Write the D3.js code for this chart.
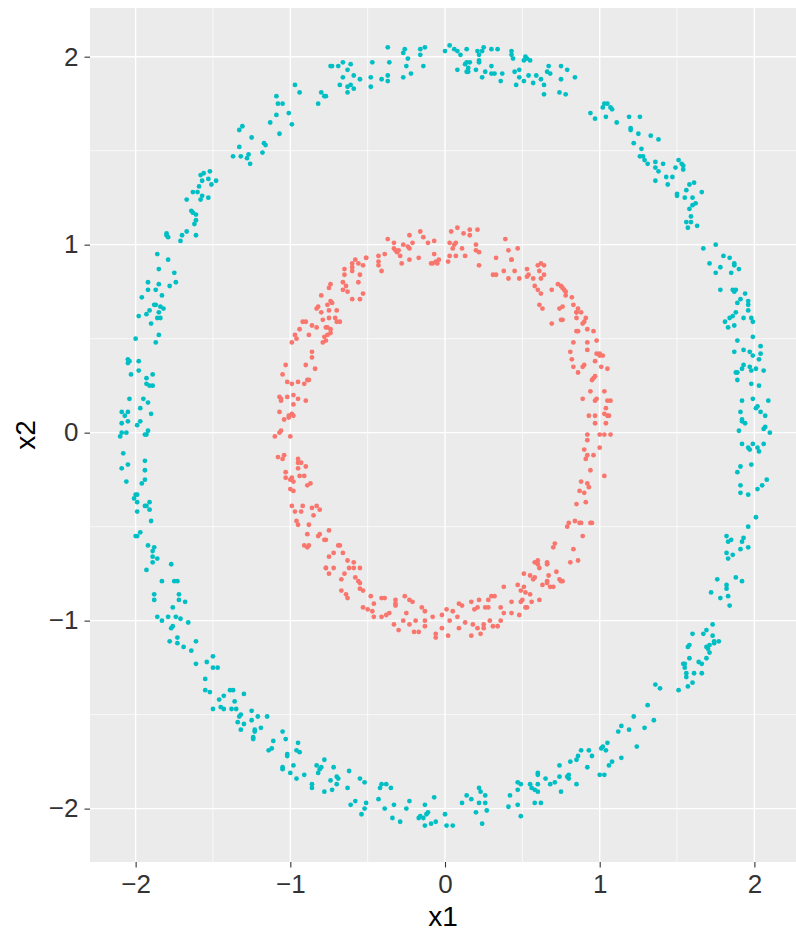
<!DOCTYPE html>
<html>
<head>
<meta charset="utf-8">
<script src="https://cdn.jsdelivr.net/npm/d3@7"></script>
<style>
  body { margin: 0; background: #fff; }
  text { font-family: "Liberation Sans", Arial, Helvetica, sans-serif; }
</style>
</head>
<body>
<script>
// size of the page
var width = 796, height = 933;
var panel = {left: 90, right: 796, top: 8, bottom: 862};

// tick values
var xTicks = [-2, -1, 0, 1, 2];
var yTicks = [-2, -1, 0, 1, 2];
var xMinor = [-1.5, -0.5, 0.5, 1.5];
var yMinor = [-1.5, -0.5, 0.5, 1.5];

// classes and colours
var classes = ["inner", "outer"];
var colours = ["#F8766D", "#00BFC4"];

// inner ring points [x1, x2]
var inner = [
[-0.80,0.73],[-0.83,0.66],[-0.82,0.67],[-0.80,0.64],[-0.79,0.60],[-0.92,0.59],[-0.90,0.59],[-0.86,0.57],[-0.83,0.56],[-0.77,0.56],
[-0.94,0.55],[-0.97,0.52],[-0.88,0.52],[-0.96,0.50],[-0.99,0.48],[-0.78,0.51],[-0.79,0.48],[-0.86,0.43],[-0.86,0.40],[-1.03,0.36],
[-0.90,0.36],[-0.84,0.34],[-1.05,0.31],[-1.02,0.27],[-0.99,0.26],[-0.95,0.27],[-0.91,0.26],[-0.89,0.28],[-0.88,0.28],[-1.07,0.19],
[-1.06,0.17],[-1.06,0.18],[-1.02,0.19],[-0.98,0.20],[-0.95,0.18],[-0.90,0.17],[-0.98,0.15],[-1.07,0.11],[-1.01,0.09],[-0.99,0.10],
[-0.98,0.09],[-1.04,0.07],[-1.01,0.08],[-1.06,0.01],[-1.07,0.00],[-1.10,-0.02],[-1.00,-0.02],
[-0.37,1.03],[-0.33,1.01],[-0.33,0.98],[-0.32,0.97],[-0.30,0.97],[-0.31,0.96],[-0.27,1.00],[-0.23,1.05],[-0.24,0.99],[-0.23,0.98],
[-0.21,1.01],[-0.29,0.94],[-0.28,0.90],[-0.23,0.92],[-0.17,0.93],[-0.16,1.07],[-0.14,1.04],[-0.11,1.01],[-0.07,1.02],[-0.07,0.95],
[-0.09,0.90],[-0.08,0.90],[-0.06,0.91],[-0.04,0.92],[-0.05,0.90],[-0.39,0.95],[-0.43,0.94],[-0.43,0.91],[-0.43,0.89],[-0.41,0.86],
[-0.51,0.93],[-0.51,0.93],[-0.53,0.89],[-0.56,0.90],[-0.58,0.92],[-0.60,0.90],[-0.60,0.88],[-0.60,0.86],[-0.65,0.87],[-0.55,0.84],
[-0.56,0.80],[-0.65,0.84],[-0.66,0.80],[-0.64,0.78],[-0.74,0.79],[-0.75,0.77],[-0.66,0.76],[-0.63,0.75],[-0.53,0.74],[-0.55,0.71],
[-0.60,0.71],[-0.76,0.68],[-0.74,0.70],[-0.73,0.69],[-0.75,0.65],[-0.70,0.65],[-0.75,0.61],[-0.71,0.61],[-0.70,0.59],[-0.68,0.59],
[-0.76,0.56],[-0.74,0.55],[-0.74,0.53],[-0.76,0.52],[-0.77,0.49],
[0.04,1.07],[0.08,1.09],[0.12,1.06],[0.16,1.08],[0.16,1.05],[0.21,1.08],[0.03,1.01],[0.06,1.00],[0.07,1.01],[0.05,0.98],
[0.03,0.94],[0.02,0.91],[0.07,0.94],[0.11,0.98],[0.13,0.94],[0.20,1.00],[0.20,0.97],[0.22,0.96],[0.22,0.89],[0.39,1.03],
[0.41,0.97],[0.43,0.92],[0.43,0.92],[0.47,0.98],[0.33,0.93],[0.31,0.84],[0.33,0.84],[0.38,0.86],[0.41,0.82],[0.45,0.86],
[0.48,0.82],[0.53,0.87],[0.54,0.84],[0.53,0.83],[0.57,0.82],[0.60,0.89],[0.62,0.90],[0.64,0.89],[0.61,0.86],[0.64,0.84],
[0.62,0.82],[0.58,0.78],[0.60,0.76],[0.62,0.74],[0.61,0.68],[0.63,0.66],[0.69,0.76],[0.73,0.79],[0.75,0.78],[0.76,0.77],
[0.74,0.66],[0.75,0.60],[0.69,0.58],
[0.77,0.76],[0.78,0.75],[0.78,0.73],[0.82,0.72],[0.83,0.68],[0.86,0.66],[0.88,0.64],[0.85,0.64],[0.85,0.61],[0.85,0.64],
[0.91,0.61],[0.90,0.59],[0.89,0.58],[0.76,0.67],[0.76,0.60],[0.85,0.54],[0.86,0.54],[0.92,0.55],[0.96,0.54],[0.98,0.49],
[0.83,0.48],[0.92,0.48],[0.81,0.43],[0.82,0.39],[0.92,0.44],[0.98,0.42],[1.00,0.41],[1.02,0.41],[1.00,0.42],[0.97,0.38],
[1.01,0.35],[1.05,0.34],[0.83,0.35],[0.86,0.32],[0.89,0.35],[0.90,0.36],[0.95,0.28],[0.96,0.29],[0.97,0.30],[0.94,0.22],
[0.89,0.18],[0.97,0.17],[0.98,0.18],[1.03,0.22],[1.05,0.17],[1.07,0.17],[1.04,0.13],[1.03,0.10],[1.05,0.09],[1.06,0.09],
[0.93,0.09],[0.97,0.09],[0.97,0.05],[1.04,0.05],[0.92,-0.01],[1.00,-0.01],[1.03,-0.01],[1.07,-0.01],
[-1.08,-0.13],[-1.05,-0.14],[-1.04,-0.12],[-0.95,-0.14],[-0.95,-0.16],[-0.93,-0.16],[-0.90,-0.18],[-0.95,-0.19],[-1.03,-0.21],[-1.03,-0.24],
[-0.99,-0.24],[-1.00,-0.25],[-0.98,-0.26],[-0.94,-0.23],[-0.91,-0.23],[-0.89,-0.28],[-0.87,-0.27],[-1.00,-0.30],[-0.98,-0.31],[-0.99,-0.39],
[-0.97,-0.42],[-0.93,-0.42],[-0.92,-0.39],[-0.86,-0.40],[-0.83,-0.39],[-0.81,-0.41],[-0.85,-0.44],[-0.96,-0.47],[-0.95,-0.49],[-0.88,-0.49],
[-0.89,-0.54],[-0.82,-0.55],[-0.81,-0.54],[-0.78,-0.57],[-0.91,-0.60],[-0.89,-0.61],[-0.88,-0.60],[-0.77,-0.72],
[-0.75,-0.52],[-0.77,-0.57],[-0.75,-0.66],[-0.77,-0.72],[-0.75,-0.75],[-0.72,-0.72],[-0.72,-0.64],[-0.69,-0.60],[-0.68,-0.60],[-0.66,-0.64],
[-0.67,-0.78],[-0.65,-0.75],[-0.63,-0.68],[-0.59,-0.69],[-0.62,-0.72],[-0.59,-0.72],[-0.55,-0.72],[-0.58,-0.77],[-0.56,-0.79],[-0.55,-0.80],
[-0.55,-0.83],[-0.53,-0.84],[-0.67,-0.84],[-0.64,-0.86],[-0.63,-0.88],[-0.53,-0.93],[-0.50,-0.94],[-0.48,-0.87],[-0.46,-0.91],[-0.47,-0.95],
[-0.46,-0.98],[-0.41,-0.88],[-0.39,-0.88],[-0.41,-0.98],[-0.38,-0.97],[-0.36,-0.96],[-0.32,-0.89],[-0.32,-0.91],[-0.32,-0.92],[-0.26,-0.87],
[-0.23,-0.89],[-0.21,-0.90],[-0.25,-0.96],[-0.33,-1.02],[-0.30,-1.05],[-0.27,-1.00],[-0.23,-1.02],[-0.19,-1.00],[-0.20,-1.06],[-0.17,-1.06],
[-0.15,-0.93],[-0.13,-0.95],[-0.13,-1.00],[-0.13,-1.03],[-0.08,-0.98],[-0.06,-1.07],[-0.06,-1.09],[-0.02,-1.04],[-0.02,-0.97],[0.01,-0.94],
[0.02,-1.08],[0.03,-1.00],[0.05,-0.95],[0.08,-0.98],[0.09,-1.04],[0.09,-0.91],[0.11,-0.92],[0.13,-1.01],[0.17,-0.90],[0.18,-1.02],
[0.17,-1.08],[0.19,-0.94],[0.21,-0.93],[0.21,-1.04],[0.22,-0.89],[0.23,-1.07],[0.25,-1.02],[0.25,-1.04],[0.26,-0.93],[0.28,-0.93],
[0.29,-1.00],[0.28,-0.89],[0.30,-0.87],[0.32,-0.87],[0.31,-1.03],[0.34,-1.03],[0.36,-0.93],[0.36,-1.00],[0.38,-0.96],[0.38,-0.82],
[0.43,-0.96],[0.43,-0.90],[0.47,-0.81],[0.48,-0.97],[0.49,-0.90],[0.49,-0.84],[0.51,-0.75],[0.51,-0.82],[0.50,-0.89],[0.52,-0.93],
[0.53,-0.93],[0.52,-0.85],[0.55,-0.86],[0.55,-0.76],[0.56,-0.90],[0.58,-0.77],[0.57,-0.78],[0.58,-0.69],[0.60,-0.68],[0.60,-0.70],
[0.61,-0.72],[0.61,-0.89],[0.63,-0.81],[0.66,-0.69],[0.66,-0.70],[0.67,-0.76],[0.66,-0.79],[0.66,-0.80],[0.68,-0.82],[0.70,-0.82],
[0.70,-0.61],[0.71,-0.59],[0.72,-0.74],[0.74,-0.78],[0.75,-0.79],
[0.92,-0.04],[1.00,-0.08],[0.90,-0.09],[0.92,-0.12],[0.91,-0.14],[0.96,-0.12],[0.94,-0.20],[1.03,-0.23],[0.88,-0.26],[0.92,-0.27],
[0.93,-0.29],[0.87,-0.31],[0.90,-0.32],[0.85,-0.38],[0.91,-0.37],[0.84,-0.47],[0.80,-0.48],[0.79,-0.50],[0.87,-0.48],[0.88,-0.48],
[0.94,-0.48],[0.95,-0.48],[0.89,-0.55],[0.83,-0.62],[0.81,-0.69],[0.86,-0.68],[0.76,-0.79]
];

// outer ring points [x1, x2]
var outer = [
[-0.97,1.85],[-0.94,1.81],[-0.80,1.81],[-0.78,1.79],[-0.82,1.75],[-1.09,1.79],[-1.08,1.75],[-1.05,1.75],[-1.01,1.70],[-1.09,1.69],
[-1.13,1.65],[-0.99,1.64],[-1.07,1.59],[-1.33,1.61],[-1.31,1.63],[-1.25,1.57],[-1.33,1.52],[-1.17,1.54],[-1.16,1.53],[-1.18,1.49],
[-1.37,1.47],[-1.32,1.47],[-1.27,1.48],[-1.28,1.46],[-1.26,1.43],[-1.52,1.39],[-1.56,1.38],[-1.58,1.37],[-1.57,1.34],[-1.53,1.35],
[-1.51,1.32],[-1.48,1.34],[-1.59,1.31],[-1.63,1.28],[-1.60,1.28],[-1.53,1.25],[-1.57,1.26],[-1.58,1.24],[-1.67,1.24],[-1.64,1.18],
[-1.63,1.17],[-1.61,1.16],[-1.61,1.13],
[-0.77,1.79],[-0.74,1.95],[-0.73,1.95],[-0.69,1.95],[-0.66,1.97],[-0.61,1.96],[-0.63,1.93],[-0.66,1.89],[-0.59,1.90],[-0.55,1.88],
[-0.68,1.85],[-0.63,1.84],[-0.61,1.85],[-0.59,1.83],[-0.63,1.81],[-0.47,1.97],[-0.48,1.89],[-0.48,1.84],[-0.37,2.05],[-0.36,1.97],
[-0.37,1.90],[-0.41,1.88],[-0.37,1.87],[-0.26,2.04],[-0.27,2.02],[-0.24,1.99],[-0.25,1.95],[-0.27,1.89],[-0.22,1.91],[-0.16,2.04],
[-0.13,2.05],[-0.16,2.01],[-0.14,1.95],[0.00,2.03],[0.03,2.06],[0.06,2.04],[0.08,2.03],[0.10,2.01],[0.14,2.04],[0.08,1.93],
[0.13,1.96],[0.14,1.97],[0.16,1.97],[0.15,1.94],[0.14,1.92],[0.15,1.92],[0.20,1.93],[0.21,2.03],[0.24,2.03],[0.25,2.05],
[0.22,2.01],[0.22,1.98],[0.22,1.97],[0.30,2.04],[0.34,2.04],[0.30,1.95],[0.26,1.92],[0.24,1.89],[0.30,1.91],[0.32,1.91],
[0.37,1.91],[0.36,1.87],[0.43,2.03],[0.43,2.01],[0.44,1.99],[0.45,1.92],[0.48,1.93],[0.51,1.98],[0.52,2.00],[0.53,1.99],
[0.55,1.98],[0.48,1.89],[0.46,1.85],[0.51,1.87],[0.54,1.90],[0.59,1.90],[0.57,1.86],[0.62,1.88],[0.64,1.85],[0.64,1.80],
[0.66,1.92],[0.67,1.95],[0.68,1.91],[0.75,1.95],[0.75,1.88],[0.74,1.81],
[0.79,1.93],[0.84,1.89],[0.78,1.80],[0.94,1.70],[0.97,1.67],[1.02,1.73],[1.03,1.75],[1.05,1.75],[1.07,1.73],[1.08,1.72],
[1.04,1.68],[1.11,1.65],[1.19,1.68],[1.26,1.68],[1.20,1.62],[1.20,1.61],[1.25,1.59],[1.33,1.58],[1.38,1.56],[1.22,1.54],
[1.27,1.51],[1.26,1.47],[1.28,1.47],[1.29,1.45],[1.31,1.43],[1.36,1.44],[1.41,1.43],[1.36,1.41],[1.38,1.39],[1.36,1.34],
[1.43,1.36],[1.47,1.36],[1.44,1.32],[1.51,1.45],[1.53,1.43],[1.54,1.42],[1.49,1.41],[1.54,1.40],[1.58,1.32],[1.61,1.33],
[1.66,1.28],[1.56,1.29],[1.50,1.27],[1.50,1.26],[1.55,1.25],[1.60,1.25],[1.62,1.22],[1.60,1.21],[1.58,1.19],[1.59,1.15],
[1.56,1.12],[1.59,1.12],
[-1.62,1.11],[-1.80,1.06],[-1.80,1.05],[-1.79,1.04],[-1.70,1.05],[-1.67,1.07],[-1.61,1.05],[-1.71,1.02],[-1.86,0.95],[-1.79,0.92],
[-1.85,0.87],[-1.75,0.85],[-1.74,0.80],[-1.92,0.80],[-1.85,0.79],[-1.78,0.78],[-1.92,0.76],[-1.87,0.76],[-1.83,0.73],[-1.96,0.72],
[-1.87,0.68],[-1.88,0.68],[-1.84,0.67],[-1.82,0.66],[-1.91,0.65],[-1.93,0.63],[-1.98,0.62],[-1.85,0.64],[-1.86,0.61],[-1.84,0.61],
[-1.90,0.58],[-1.85,0.52],[-1.87,0.48],[-2.00,0.50],[-2.05,0.39],[-2.04,0.38],[-2.05,0.37],[-1.98,0.38],[-2.03,0.31],[-1.98,0.33],
[-1.93,0.29],[-1.89,0.31],[-1.93,0.26],[-1.91,0.25],[-1.89,0.25],[-2.04,0.18],[-1.95,0.18],[-1.92,0.16],[-2.09,0.11],[-2.07,0.09],
[-2.05,0.11],[-1.97,0.13],[-1.90,0.10],[-2.09,0.05],[-2.05,0.06],[-1.97,0.06],[-1.99,0.04],[-2.09,0.00],[-1.92,0.01],[-1.93,-0.01],
[1.63,1.10],[1.57,1.09],[1.67,0.98],[1.75,1.00],[1.80,0.94],[1.84,0.93],[1.71,0.90],[1.78,0.88],[1.87,0.90],[1.87,0.89],
[1.90,0.87],[1.75,0.85],[1.85,0.85],[1.78,0.76],[1.86,0.76],[1.88,0.76],[1.87,0.75],[1.94,0.74],[1.91,0.71],[1.89,0.69],
[1.96,0.70],[1.96,0.68],[1.96,0.65],[1.88,0.64],[1.86,0.62],[1.84,0.61],[1.81,0.59],[1.93,0.61],[1.98,0.61],[1.99,0.59],
[1.87,0.57],[1.83,0.56],[1.99,0.51],[1.89,0.49],[1.87,0.43],[1.93,0.44],[1.97,0.43],[2.04,0.46],[1.99,0.41],[2.04,0.42],
[2.03,0.39],[1.93,0.36],[1.92,0.34],[1.97,0.35],[2.01,0.34],[2.06,0.33],[1.98,0.33],[1.88,0.32],[1.89,0.32],[1.89,0.28],
[1.98,0.26],[2.03,0.25],[1.99,0.18],[1.92,0.17],[2.09,0.17],[2.01,0.13],[2.02,0.14],[1.91,0.11],[2.04,0.11],[2.07,0.09],
[1.92,0.07],[1.92,0.06],[1.94,0.05],[2.06,0.02],[2.07,0.03],[2.10,0.00],[1.90,0.01],
[-2.10,-0.02],[-2.06,0.00],[-1.94,-0.01],[-2.08,-0.11],[-2.05,-0.17],[-2.09,-0.19],[-1.94,-0.15],[-1.94,-0.20],[-1.94,-0.25],[-1.96,-0.27],
[-2.06,-0.26],[-2.00,-0.33],[-1.99,-0.33],[-2.01,-0.35],[-1.99,-0.37],[-1.91,-0.37],[-1.94,-0.39],[-1.93,-0.39],[-1.91,-0.41],[-1.99,-0.42],
[-1.90,-0.47],[-2.00,-0.55],[-1.99,-0.55],[-1.97,-0.53],[-1.92,-0.60],[-1.88,-0.61],[-1.89,-0.63],[-1.89,-0.66],[-1.86,-0.67],[-1.89,-0.69],
[-1.93,-0.73],[-1.77,-0.70],[-1.83,-0.79],[-1.75,-0.79],[-1.73,-0.79],[-1.88,-0.86],[-1.88,-0.89],[-1.72,-0.86],[-1.72,-0.89],[-1.68,-0.90],
[-1.76,-0.93],[-1.86,-0.98],[-1.83,-1.00],[-1.79,-0.98],[-1.74,-0.98],[-1.71,-0.99],[-1.66,-1.01],[-1.77,-1.04],[-1.76,-1.03],[-1.78,-1.11],
[-1.73,-1.09],[-1.73,-1.12],[-1.69,-1.14],[-1.64,-1.16],[-1.61,-1.11],
[1.92,-0.06],[1.96,-0.08],[1.97,-0.09],[1.99,-0.06],[2.02,-0.08],[2.03,-0.10],[2.06,-0.06],[1.91,-0.18],[1.98,-0.17],[1.89,-0.21],
[2.08,-0.25],[2.05,-0.28],[1.91,-0.28],[1.91,-0.32],[1.96,-0.33],[2.02,-0.30],[2.01,-0.45],[1.96,-0.50],[1.82,-0.55],[1.83,-0.58],
[1.85,-0.57],[1.92,-0.58],[1.93,-0.56],[1.96,-0.61],[1.91,-0.62],[1.82,-0.64],[1.86,-0.65],[1.83,-0.67],[1.76,-0.78],[1.88,-0.77],
[1.92,-0.79],[1.82,-0.81],[1.82,-0.83],[1.72,-0.85],[1.83,-0.87],[1.78,-0.88],[1.84,-0.92],[1.73,-1.02],[1.69,-1.05],[1.67,-1.07],
[1.60,-1.07],[1.73,-1.08],[1.74,-1.11],[1.77,-1.11],[1.74,-1.12],[1.57,-1.14],[1.58,-1.13],[1.69,-1.14],[1.71,-1.13],[1.70,-1.15],
[-1.61,-1.23],[-1.54,-1.22],[-1.50,-1.19],[-1.50,-1.25],[-1.47,-1.25],[-1.55,-1.31],[-1.55,-1.37],[-1.52,-1.38],[-1.46,-1.42],[-1.43,-1.40],
[-1.39,-1.37],[-1.37,-1.37],[-1.36,-1.43],[-1.30,-1.39],[-1.45,-1.46],[-1.43,-1.47],[-1.50,-1.47],[-1.38,-1.47],[-1.35,-1.47],[-1.33,-1.51],
[-1.32,-1.50],[-1.34,-1.54],[-1.30,-1.55],[-1.25,-1.48],[-1.25,-1.53],[-1.21,-1.51],[-1.15,-1.51],[-1.19,-1.57],[-1.32,-1.58],[-1.23,-1.58],
[-1.23,-1.59],[-1.24,-1.62],[-1.24,-1.63],[-1.11,-1.64],[-1.14,-1.69],[-1.12,-1.68],[-1.05,-1.59],[-1.03,-1.63],[-0.95,-1.65],[-0.96,-1.69],
[-0.94,-1.70],[-1.02,-1.71],[-1.02,-1.72],[-1.05,-1.78],[-1.05,-1.79],[-0.98,-1.77],[-1.00,-1.81],[-0.96,-1.84],[-0.91,-1.82],[-0.86,-1.87],
[-0.86,-1.89],[-0.83,-1.77],[-0.80,-1.78],[-0.81,-1.79],[-0.82,-1.81],[-0.78,-1.74],[-0.78,-1.91],
[-0.72,-1.78],[-0.74,-1.85],[-0.73,-1.90],[-0.70,-1.83],[-0.69,-1.84],[-0.70,-1.87],[-0.62,-1.80],[-0.63,-1.89],[-0.61,-1.98],[-0.58,-1.96],
[-0.55,-1.84],[-0.52,-1.86],[-0.54,-2.03],[-0.52,-2.00],[-0.51,-1.97],[-0.43,-1.95],[-0.42,-1.89],[-0.41,-1.87],[-0.38,-1.87],[-0.35,-1.89],
[-0.39,-2.00],[-0.34,-2.05],[-0.33,-1.98],[-0.29,-2.07],[-0.25,-2.00],[-0.23,-1.96],[-0.17,-2.05],[-0.16,-2.04],[-0.14,-2.05],[-0.13,-1.98],
[-0.11,-2.02],[-0.12,-2.03],[-0.13,-2.09],[-0.09,-2.08],[-0.06,-2.07],[-0.07,-1.94],[0.00,-2.03],[0.01,-2.09],[0.05,-2.09],[0.11,-1.97],
[0.14,-1.93],[0.17,-1.95],[0.20,-2.02],[0.22,-1.89],[0.23,-1.91],[0.22,-1.97],[0.24,-2.08],[0.26,-1.97],[0.26,-1.93],[0.27,-2.01],
[0.41,-1.99],[0.42,-1.93],[0.47,-1.98],[0.47,-1.90],[0.47,-1.86],[0.49,-1.87],[0.49,-2.04],[0.55,-1.87],[0.56,-1.89],[0.58,-1.90],
[0.60,-1.91],[0.58,-1.97],[0.62,-1.97],[0.60,-1.81],[0.60,-1.82],[0.60,-1.87],[0.65,-1.84],[0.68,-1.87],[0.71,-1.86],[0.74,-1.77],
[0.74,-1.83],[0.75,-1.91],
[0.80,-1.82],[0.80,-1.84],[0.79,-1.83],[0.85,-1.87],[0.81,-1.75],[0.85,-1.74],[0.86,-1.72],[0.88,-1.69],[0.93,-1.69],[0.95,-1.72],
[0.92,-1.78],[1.00,-1.82],[1.03,-1.82],[1.01,-1.68],[1.02,-1.67],[1.04,-1.69],[1.05,-1.65],[1.06,-1.77],[1.08,-1.75],[1.14,-1.73],
[1.12,-1.59],[1.14,-1.56],[1.19,-1.58],[1.22,-1.51],[1.24,-1.67],[1.29,-1.57],[1.35,-1.53],[1.31,-1.45],[1.36,-1.34],[1.39,-1.36],
[1.51,-1.37],[1.57,-1.35],[1.60,-1.33],[1.56,-1.30],[1.56,-1.28],[1.61,-1.28],[1.66,-1.28],[1.54,-1.23],[1.55,-1.23],[1.55,-1.25],
[1.58,-1.20],[1.64,-1.22],[1.66,-1.23],[1.69,-1.20],[1.71,-1.17]
];

var svg = d3.select("body")
    .append("svg")
    .attr("width", width)
    .attr("height", height);

// scales (panel limits)
var x = d3.scaleLinear()
    .domain([-2.295, 2.269])
    .range([panel.left, panel.right]);
var y = d3.scaleLinear()
    .domain([-2.284, 2.259])
    .range([panel.bottom, panel.top]);

// panel background
svg.append("rect")
    .attr("x", panel.left)
    .attr("y", panel.top)
    .attr("width", panel.right - panel.left)
    .attr("height", panel.bottom - panel.top)
    .attr("fill", "#EBEBEB");

// grid lines
var grid = svg.append("g");
grid.selectAll(".xminor").data(xMinor).enter().append("line")
    .attr("x1", x).attr("x2", x)
    .attr("y1", panel.top).attr("y2", panel.bottom)
    .attr("stroke", "#fff").attr("stroke-width", 0.7);
grid.selectAll(".yminor").data(yMinor).enter().append("line")
    .attr("y1", y).attr("y2", y)
    .attr("x1", panel.left).attr("x2", panel.right)
    .attr("stroke", "#fff").attr("stroke-width", 0.7);
grid.selectAll(".xmajor").data(xTicks).enter().append("line")
    .attr("x1", x).attr("x2", x)
    .attr("y1", panel.top).attr("y2", panel.bottom)
    .attr("stroke", "#fff").attr("stroke-width", 1.4);
grid.selectAll(".ymajor").data(yTicks).enter().append("line")
    .attr("y1", y).attr("y2", y)
    .attr("x1", panel.left).attr("x2", panel.right)
    .attr("stroke", "#fff").attr("stroke-width", 1.4);

// points
var groups = [inner, outer];
groups.forEach(function(pts, i) {
    svg.append("g").selectAll("circle")
        .data(pts)
        .enter()
        .append("circle")
        .attr("cx", function(d) { return x(d[0]); })
        .attr("cy", function(d) { return y(d[1]); })
        .attr("r", 2.4)
        .attr("fill", colours[i]);
});

function fmt(d) { return d < 0 ? "\u2212" + Math.abs(d) : String(d); }

// axes
var xAxis = d3.axisBottom(x).tickValues(xTicks).tickSize(5.5).tickPadding(7).tickFormat(fmt);
var xg = svg.append("g")
    .attr("transform", "translate(0," + panel.bottom + ")")
    .call(xAxis);
var yAxis = d3.axisLeft(y).tickValues(yTicks).tickSize(5.5).tickPadding(6).tickFormat(fmt);
var yg = svg.append("g")
    .attr("transform", "translate(" + panel.left + ",0)")
    .call(yAxis);

[xg, yg].forEach(function(g) {
    g.select(".domain").remove();
    g.selectAll(".tick line").attr("stroke", "#333333").attr("stroke-width", 1.1);
    g.selectAll(".tick text")
        .attr("fill", "#333333")
        .style("font-size", "26px")
        .style("font-family", "Liberation Sans, Arial, sans-serif");
});

// axis titles
svg.append("text")
    .attr("x", (panel.left + panel.right) / 2)
    .attr("y", 926)
    .attr("text-anchor", "middle")
    .style("font-size", "28px")
    .attr("fill", "#000")
    .text("x1");
svg.append("text")
    .attr("transform", "translate(35," + ((panel.top + panel.bottom) / 2) + ") rotate(-90)")
    .attr("text-anchor", "middle")
    .style("font-size", "28px")
    .attr("fill", "#000")
    .text("x2");
</script>
</body>
</html>
